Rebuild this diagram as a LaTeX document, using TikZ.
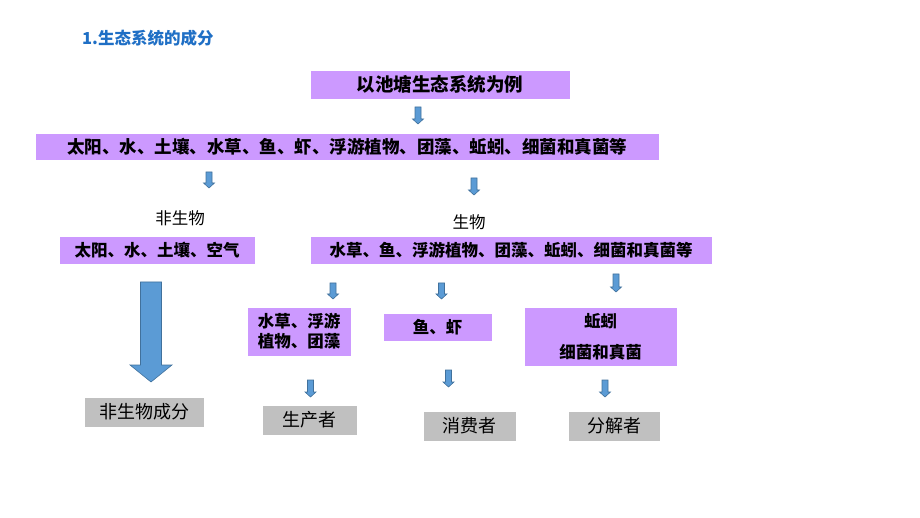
\documentclass[tikz,border=0pt]{standalone}
\usepackage{fontspec}
\setmainfont{Liberation Sans}
\newfontfamily\cjk{Noto Sans CJK SC}
\usetikzlibrary{positioning}
\definecolor{boxpurple}{HTML}{CC99FF}
\definecolor{boxgray}{HTML}{C0C0C0}
\definecolor{arrowblue}{HTML}{5B9BD5}
\definecolor{arrowline}{HTML}{41719C}
\definecolor{titleblue}{HTML}{1F6FC5}
% block arrow pointing down: centre x, top y, tip y, half shaft, half head, head height
\newcommand{\blockdown}[6]{ \draw[fill=arrowblue,draw=arrowline,line width=0.6pt,line join=miter] ({#1-#4},#2) -- ({#1+#4},#2) -- ({#1+#4},{#3-#6}) -- ({#1+#5},{#3-#6}) -- (#1,#3) -- ({#1-#5},{#3-#6}) -- ({#1-#4},{#3-#6}) -- cycle;}
\newcommand{\smalldown}[3]{\blockdown{#1}{#2}{#3}{3}{5.5}{5}}

\begin{document}
\begin{tikzpicture}[x=1pt,y=-1pt,
    purplebox/.style={fill=boxpurple,draw=white,line width=0.8pt,inner sep=0pt,align=center},
    graybox/.style={fill=boxgray,draw=white,line width=0.8pt,inner sep=0pt,font=\cjk\fontsize{18}{20}\selectfont},
    bigtext/.style={font=\cjk\bfseries\fontsize{18.5}{20}\selectfont},
    midtext/.style={font=\cjk\bfseries\fontsize{17.5}{20}\selectfont},
    smalltext/.style={font=\cjk\bfseries\fontsize{16.5}{20}\selectfont},
    label/.style={inner sep=0pt,font=\cjk\fontsize{16.5}{18}\selectfont}]
    \useasboundingbox (0,0) rectangle (920,518);
    % title
    \node[anchor=west,inner sep=0pt,text=titleblue,font=\cjk\bfseries\fontsize{16.5}{18}\selectfont] (title) at (82,38) {1.生态系统的成分};
    % top rows
    \node[purplebox,bigtext,minimum width=260pt,minimum height=29pt] (pond) at (440,84.5) {以池塘生态系统为例};
    \smalldown{418}{107}{124}
    \node[purplebox,midtext,minimum width=624pt,minimum height=27pt] (all) at (347,146.5) {太阳、水、土壤、水草、鱼、虾、浮游植物、团藻、蚯蚓、细菌和真菌等};
    \smalldown{209}{172}{188}
    \smalldown{474}{178}{195}
    % two groups
    \node[label] (abiotic) at (180,218) {非生物};
    \node[label] (biotic) at (469,222) {生物};
    \node[purplebox,smalltext,minimum width=196pt,minimum height=28pt] (abioticlist) at (157,250) {太阳、水、土壤、空气};
    \node[purplebox,smalltext,minimum width=402pt,minimum height=28pt] (bioticlist) at (511,250) {水草、鱼、浮游植物、团藻、蚯蚓、细菌和真菌等};
    % abiotic branch
    \blockdown{151}{282}{382}{10.5}{21}{17}
    \node[graybox,minimum width=120pt,minimum height=30pt] (abioticpart) at (144,412) {非生物成分};
    % producer
    \smalldown{333}{283}{299}
    \node[purplebox,smalltext,minimum width=104pt,minimum height=49pt] (plants) at (299,331.5) {水草、浮游\\植物、团藻};
    \smalldown{310.5}{380}{397}
    \node[graybox,minimum width=95pt,minimum height=30pt] (producer) at (309.5,420) {生产者};
    % consumer
    \smalldown{441.5}{283}{299}
    \node[purplebox,smalltext,minimum width=109pt,minimum height=28pt] (animals) at (437.5,327) {鱼、虾};
    \smalldown{448.5}{370}{387}
    \node[graybox,minimum width=93pt,minimum height=30pt] (consumer) at (469.5,426) {消费者};
    % decomposer
    \smalldown{616}{274}{292}
    \node[purplebox,smalltext,minimum width=153pt,minimum height=59pt,font=\cjk\bfseries\fontsize{16.5}{31}\selectfont] (microbes) at (600.5,336.5) {蚯蚓\\细菌和真菌};
    \smalldown{605}{380}{397}
    \node[graybox,minimum width=92pt,minimum height=30pt] (decomposer) at (614,426) {分解者};
\end{tikzpicture}
\end{document}
